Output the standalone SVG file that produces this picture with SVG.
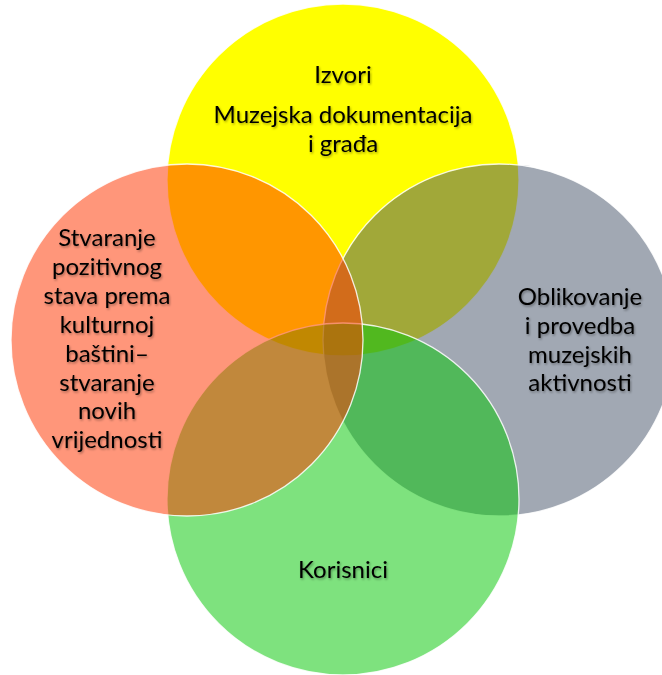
<svg xmlns="http://www.w3.org/2000/svg" width="662" height="675" viewBox="0 0 662 675">
<defs>
<filter id="ts" x="-10%" y="-30%" width="120%" height="160%">
<feDropShadow dx="1" dy="1.5" stdDeviation="0.8" flood-color="#000" flood-opacity="0.35"/>
</filter>
<style>
.c{stroke:#ffffff;stroke-width:1.3;stroke-opacity:0.85}
.t{font-family:Lato,"Open Sans","Liberation Sans",sans-serif;font-size:24px;fill:#000;text-anchor:middle;filter:url(#ts)}
</style>
</defs>
<rect width="662" height="675" fill="#ffffff"/>
<g id="izvori">
<circle class="c" cx="343" cy="180" r="176" fill="#FFFF00"/>
<text class="t" x="343" y="83">Izvori</text>
<text class="t" x="343" y="123">Muzejska dokumentacija</text>
<text class="t" x="343" y="152">i građa</text>
</g>
<g id="oblikovanje">
<circle class="c" cx="499" cy="340" r="176" fill="#4B586E" fill-opacity="0.52"/>
<text class="t" x="580" y="305">Oblikovanje</text>
<text class="t" x="580" y="334">i provedba</text>
<text class="t" x="580" y="363">muzejskih</text>
<text class="t" x="580" y="391">aktivnosti</text>
</g>
<g id="korisnici">
<circle class="c" cx="343" cy="499" r="176" fill="#08C808" fill-opacity="0.52"/>
<text class="t" x="343" y="578">Korisnici</text>
</g>
<g id="stvaranje">
<circle class="c" cx="187" cy="340" r="176" fill="#FF3600" fill-opacity="0.52"/>
<text class="t" x="107" y="246">Stvaranje</text>
<text class="t" x="107" y="275">pozitivnog</text>
<text class="t" x="107" y="304">stava prema</text>
<text class="t" x="107" y="333">kulturnoj</text>
<text class="t" x="107" y="362">baštini–</text>
<text class="t" x="107" y="391">stvaranje</text>
<text class="t" x="107" y="419">novih</text>
<text class="t" x="107" y="448">vrijednosti</text>
</g>
</svg>
